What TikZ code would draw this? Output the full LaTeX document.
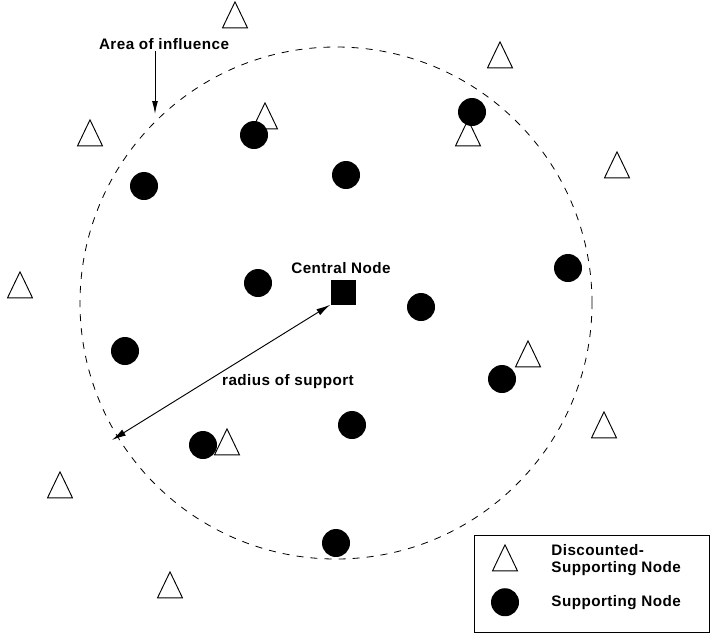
\documentclass[tikz,border=0pt]{standalone}
\usepackage{fontspec}
\setmainfont{Liberation Sans}
\usetikzlibrary{shapes.geometric, positioning, arrows.meta}

\begin{document}
\begin{tikzpicture}[x=0.03cm,y=-0.03cm,
    support/.style={circle, fill=black, minimum size=0.84cm, inner sep=0pt},
    discounted/.style={isosceles triangle, isosceles triangle stretches, shape border rotate=90,
        draw, line width=0.8pt, minimum width=0.75cm, minimum height=0.78cm, inner sep=0pt},
    central/.style={rectangle, fill=black, minimum size=0.75cm, inner sep=0pt},
    lbl/.style={font=\bfseries\fontsize{13}{15}\selectfont\addfontfeatures{LetterSpace=3}, inner sep=1pt}]

    \useasboundingbox (0,0) rectangle (711,634);

    % area of influence
    \draw[dash pattern=on 6pt off 6pt, line width=0.7pt] (336,303) circle (256*0.03cm);

    % discounted-supporting nodes
    \node[discounted] (d1) at (235,20) {};
    \node[discounted] (d2) at (500,60) {};
    \node[discounted] (d3) at (90,138) {};
    \node[discounted] (d4) at (265,121) {};
    \node[discounted] (d5) at (468,138) {};
    \node[discounted] (d6) at (617,170) {};
    \node[discounted] (d7) at (20,290) {};
    \node[discounted] (d8) at (528,359) {};
    \node[discounted] (d9) at (604,430) {};
    \node[discounted] (d10) at (60,490) {};
    \node[discounted] (d11) at (170,590) {};

    % supporting nodes
    \node[support] (s1) at (254,135) {};
    \node[support] (s2) at (472,112) {};
    \node[support] (s3) at (144,186) {};
    \node[support] (s4) at (346,175) {};
    \node[support] (s5) at (258,283) {};
    \node[support] (s6) at (568,268) {};
    \node[support] (s7) at (421,307) {};
    \node[support] (s8) at (125,351) {};
    \node[support] (s9) at (502,379) {};
    \node[support] (s10) at (352,425) {};
    \node[support] (s11) at (203,445) {};
    \node[support] (s12) at (336,543) {};

    \node[discounted, fill=white] (d12) at (227,447) {};

    % central node
    \node[central] (c) at (343,292) {};
    \node[lbl] (clabel) at (341,268) {Central Node};

    % radius of support
    \coordinate (redge) at (112,440);
    \draw[{Latex[length=12pt,width=6pt]}-{Latex[length=12pt,width=6pt]}, line width=0.8pt]
        (redge) -- (c.south west);
    \node[lbl] (rlabel) at (288,382) {radius of support};

    % area of influence label
    \node[lbl] (alabel) at (164,44) {Area of influence};
    \coordinate (aedge) at (155,114);
    \draw[-{Latex[length=11pt,width=5pt]}, line width=0.8pt] (alabel.south -| aedge) -- (aedge);

    % legend
    \draw[line width=0.8pt] (474,535) rectangle (709,632);
    \node[discounted] (legd) at (505,563) {};
    \node[support] (legs) [below=0.5cm of legd] {};
    \node[lbl, anchor=west, align=left] (legdtext) at (550,560) {Discounted-\\Supporting Node};
    \node[lbl, anchor=west] (legstext) at (legdtext.west |- legs) {Supporting Node};

\end{tikzpicture}
\end{document}
